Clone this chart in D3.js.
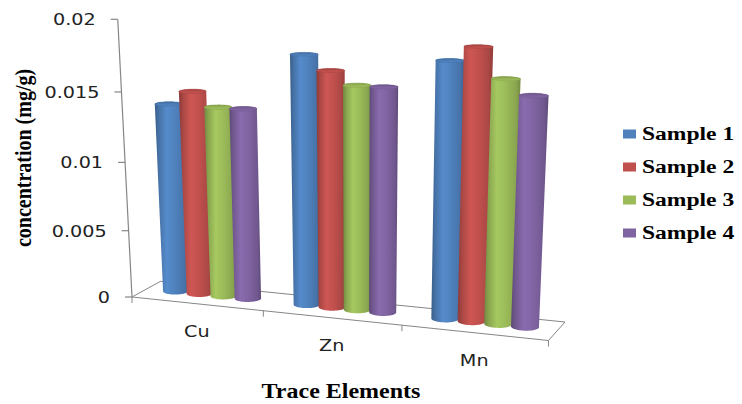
<!DOCTYPE html>
<html>
<head>
<meta charset="utf-8">
<script src="https://cdn.jsdelivr.net/npm/d3@7/dist/d3.min.js"></script>
<style>
  html, body { margin: 0; padding: 0; background: #ffffff; }
  svg { display: block; }
</style>
</head>
<body>
<svg id="chart" width="742" height="404"></svg>
<script>
// ---- data ----
const categories = ["Cu", "Zn", "Mn"];
const seriesNames = ["Sample 1", "Sample 2", "Sample 3", "Sample 4"];
const sample1 = [0.0139, 0.0179, 0.0180];
const sample2 = [0.0149, 0.0169, 0.0190];
const sample3 = [0.0139, 0.0160, 0.0170];
const sample4 = [0.0139, 0.0160, 0.0160];
const valueTicks = [0, 0.005, 0.01, 0.015, 0.02];
const tickLabels = ["0", "0.005", "0.01", "0.015", "0.02"];
const seriesColors = ["#4F81BD", "#C0504D", "#9BBB59", "#8064A2"];

const seriesValues = [sample1, sample2, sample3, sample4];

// ---- 3D box projection (floor homography + vertical vanishing direction) ----
const floorQuad = {
  frontLeft:  [132, 297],
  frontRight: [548.5, 340.5],
  backRight:  [565, 322],
  backLeft:   [160.5, 281.3]
};
const verticalVP = [358, 4700];
const verticalK = -0.05933;

function unitSquareToQuad(p0, p1, p2, p3) {
  const dx1 = p1[0] - p2[0], dx2 = p3[0] - p2[0], dx3 = p0[0] - p1[0] + p2[0] - p3[0];
  const dy1 = p1[1] - p2[1], dy2 = p3[1] - p2[1], dy3 = p0[1] - p1[1] + p2[1] - p3[1];
  const det = dx1 * dy2 - dx2 * dy1;
  const g = (dx3 * dy2 - dx2 * dy3) / det;
  const h = (dx1 * dy3 - dx3 * dy1) / det;
  return {
    a: p1[0] - p0[0] + g * p1[0], b: p3[0] - p0[0] + h * p3[0], c: p0[0],
    d: p1[1] - p0[1] + g * p1[1], e: p3[1] - p0[1] + h * p3[1], f: p0[1],
    g, h
  };
}
const H = unitSquareToQuad(floorQuad.frontLeft, floorQuad.frontRight, floorQuad.backRight, floorQuad.backLeft);

// X: category units [0,3], Y: value fraction [0,1], Z: depth [0 front, 1 back]
function project(X, Y, Z) {
  const u = X / categories.length, v = Z;
  const w = H.g * u + H.h * v + 1 + verticalK * Y;
  const sx = (H.a * u + H.b * v + H.c + verticalK * verticalVP[0] * Y) / w;
  const sy = (H.d * u + H.e * v + H.f + verticalK * verticalVP[1] * Y) / w;
  return [sx, sy];
}

// ---- scales ----
const xCat = d3.scaleBand().domain(categories).range([0, categories.length]).padding(0);
const xSeries = d3.scaleBand().domain(seriesNames).range([0.13, 0.87]).padding(0);
const yVal = d3.scaleLinear().domain([0, 0.02]).range([0, 1]);

const barDepthCenter = 0.55;
const barDepthRadius = 0.2;

const svg = d3.select("#chart");
const defs = svg.append("defs");

const SX = 1.2; // horizontal glyph stretch
const axisGrey = "#868686";

// gradients for cylinder bodies and tops
seriesColors.forEach((c, i) => {
  const base = d3.color(c);
  const g = defs.append("linearGradient").attr("id", "body" + i)
    .attr("x1", 0).attr("x2", 1).attr("y1", 0).attr("y2", 0);
  [[0, base.darker(0.9)], [0.12, base.darker(0.35)], [0.35, base.brighter(0.2)],
   [0.6, base], [0.88, base.darker(0.35)], [1, base.darker(0.85)]]
    .forEach(([o, col]) => g.append("stop").attr("offset", o).attr("stop-color", col.formatHex()));
  const t = defs.append("linearGradient").attr("id", "top" + i)
    .attr("x1", 0).attr("x2", 0).attr("y1", 0).attr("y2", 1);
  [[0, base.darker(0.5)], [0.5, base.darker(0.1)], [1, base.brighter(0.1)]]
    .forEach(([o, col]) => t.append("stop").attr("offset", o).attr("stop-color", col.formatHex()));
});

// ---- floor ----
const floorG = svg.append("g").attr("fill", "none").attr("stroke", axisGrey).attr("stroke-width", 1);
const nCat = categories.length;
const segment = d3.line();
floorG.append("path").attr("d", segment([project(0, 0, 1), project(nCat, 0, 1)]));
floorG.append("path").attr("d", segment([project(0, 0, 0), project(0, 0, 1)]));
floorG.append("path").attr("d", segment([project(nCat, 0, 0), project(nCat, 0, 1)]));

// ---- bars (cylinders) ----
const barsG = svg.append("g");
const N = 72;
const closedLine = d3.line().curve(d3.curveLinearClosed);
categories.forEach((cat, ci) => {
  seriesNames.forEach((s, si) => {
    const v = seriesValues[si][ci];
    const xc = xCat(cat) + xSeries(s) + xSeries.bandwidth() / 2;
    const rx = xSeries.bandwidth() / 2;
    const top = yVal(v);
    const bottomPts = [], topPts = [];
    for (let k = 0; k < N; k++) {
      const t = (k / N) * Math.PI * 2;
      const X = xc + rx * Math.cos(t), Z = barDepthCenter + barDepthRadius * Math.sin(t);
      bottomPts.push(project(X, 0, Z));
      topPts.push(project(X, top, Z));
    }
    const hull = d3.polygonHull(bottomPts.concat(topPts));
    barsG.append("path").attr("d", closedLine(hull)).attr("fill", `url(#body${si})`);
    barsG.append("path").attr("d", closedLine(topPts)).attr("fill", `url(#top${si})`)
      .attr("stroke", d3.color(seriesColors[si]).darker(0.4).formatHex()).attr("stroke-width", 0.5);
  });
});

// ---- front edge and category ticks ----
const frontG = svg.append("g").attr("fill", "none").attr("stroke", axisGrey).attr("stroke-width", 1);
frontG.append("path").attr("d", segment([project(0, 0, 0), project(nCat, 0, 0)]));
d3.range(nCat + 1).forEach(i => {
  const p = project(i, 0, 0);
  frontG.append("path").attr("d", segment([p, [p[0], p[1] + 6]]));
});

// ---- value axis ----
const axisG = svg.append("g");
const a0 = project(0, 0, 0), a1 = project(0, 1, 0);
axisG.append("path").attr("d", segment([a0, a1])).attr("stroke", axisGrey).attr("stroke-width", 1.2).attr("fill", "none");
valueTicks.forEach((t, i) => {
  const p = project(0, yVal(t), 0);
  axisG.append("path").attr("d", segment([[p[0] - 7, p[1]], p]))
    .attr("stroke", axisGrey).attr("stroke-width", 1.2).attr("fill", "none");
  axisG.append("text")
    .attr("transform", `translate(${p[0] - 22},${p[1] + 6}) scale(${SX},1)`)
    .attr("text-anchor", "end")
    .attr("font-family", "'DejaVu Sans', Verdana, sans-serif")
    .attr("font-size", 16).attr("fill", "#222")
    .text(tickLabels[i]);
});

// ---- category labels ----
categories.forEach(cat => {
  const p = project(xCat(cat) + xCat.bandwidth() / 2, 0, 0);
  svg.append("text")
    .attr("transform", `translate(${p[0]},${p[1] + 33}) scale(${SX},1)`)
    .attr("text-anchor", "middle")
    .attr("font-family", "'DejaVu Sans', Verdana, sans-serif")
    .attr("font-size", 16).attr("fill", "#222")
    .text(cat);
});

// ---- axis titles ----
svg.append("text")
  .attr("transform", `translate(341,398) scale(${SX},1)`)
  .attr("text-anchor", "middle")
  .attr("font-family", "'Liberation Serif', 'Times New Roman', serif")
  .attr("font-weight", "bold").attr("font-size", 20).attr("fill", "#000")
  .text("Trace Elements");

svg.append("text")
  .attr("transform", `translate(31,158) rotate(-90) scale(1,${SX})`)
  .attr("text-anchor", "middle")
  .attr("font-family", "'Liberation Serif', 'Times New Roman', serif")
  .attr("font-weight", "bold").attr("font-size", 20).attr("fill", "#000")
  .text("concentration (mg/g)");

// ---- legend ----
const legend = svg.append("g");
const legendY = d3.scalePoint().domain(seriesNames).range([134, 233]);
seriesNames.forEach((s, i) => {
  const cy = legendY(s);
  legend.append("rect").attr("x", 623).attr("y", cy - 4.5).attr("width", 13).attr("height", 9)
    .attr("fill", seriesColors[i]);
  legend.append("text")
    .attr("transform", `translate(642,${cy + 6}) scale(1.24,1)`)
    .attr("font-family", "'Liberation Serif', 'Times New Roman', serif")
    .attr("font-weight", "bold").attr("font-size", 19).attr("fill", "#000")
    .text(s);
});
</script>
</body>
</html>
